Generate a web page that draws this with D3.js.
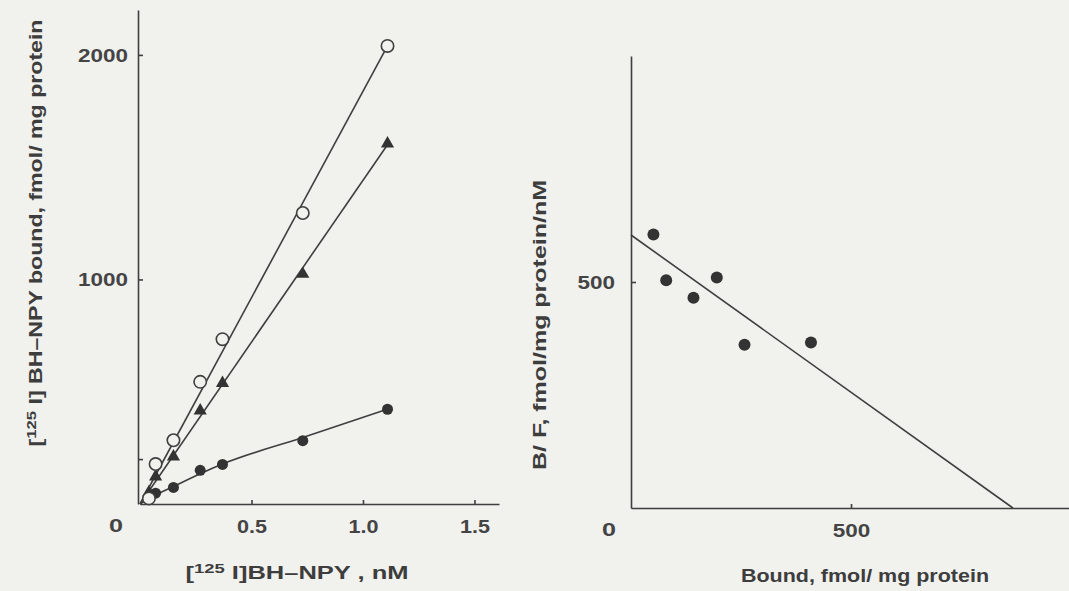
<!DOCTYPE html>
<html>
<head>
<meta charset="utf-8">
<script src="https://d3js.org/d3.v7.min.js"></script>
<style>
  body { margin: 0; background: #f1f1ee; }
  svg { display: block; }
  text { font-family: "Liberation Sans", Arial, sans-serif; fill: #3a3a3a; }
  .tick text, .zero { font-size: 19px; font-weight: bold; fill: #444; }
  .title { font-size: 18px; font-weight: bold; fill: #3d3d3d; }
  .domain, .tick line { stroke: #3f3f3f; stroke-width: 1.6px; }
</style>
</head>
<body>
<div id="chart"></div>
<script>
// saturation binding, [125I]BH-NPY concentration (nM)
var conc = [0.04, 0.07, 0.15, 0.27, 0.37, 0.73, 1.11];
var totalBound = [25, 178, 284, 544, 734, 1296, 2040];
var specificBound = [52, 122, 211, 416, 538, 1024, 1605];
var nonspecificBound = [22, 48, 74, 150, 176, 282, 422];

// drawn fit curves [x, y]
var totalFit = [[0, 0], [1.11, 2040]];
var specificFit = [[0, 0], [1.11, 1600]];
var nonspecificFit = [[0, 0], [0.07, 40], [0.15, 78], [0.27, 135], [0.37, 178], [0.73, 296], [1.11, 422]];

var satXTicks = [0.5, 1.0, 1.5];
var satYTicks = [200, 1000, 2000];
var satYLabels = [1000, 2000];

// Scatchard plot
var scBound = [51, 80, 142, 195, 258, 409];
var scRatio = [605, 504, 465, 510, 361, 366];
var scFit = [[0, 604], [868, 0]];
var scXTicks = [500];
var scYTicks = [500];

var W = 1069, H = 591;
var ink = "#3f3f3f";

var svg = d3.select("#chart").append("svg")
    .attr("width", W).attr("height", H);

// the figure's digits are set wide
function digitLen(s) {
  return s.replace(/[^0-9]/g, "").length * 12.5 + s.replace(/[0-9]/g, "").length * 5;
}

function stretchTicks(g) {
  g.selectAll(".tick text")
    .attr("textLength", function() { return this.textContent ? digitLen(this.textContent) : null; })
    .attr("lengthAdjust", "spacingAndGlyphs");
}

// ---- left panel ----
var x1 = d3.scaleLinear().domain([0, 1.61]).range([140, 499]);
var y1 = d3.scaleLinear().domain([0, 2200]).range([504, 10]);

var gx1 = svg.append("g")
    .attr("transform", "translate(0," + y1(0) + ")")
    .call(d3.axisBottom(x1).tickValues(satXTicks).tickSize(-4).tickSizeOuter(0)
      .tickPadding(16).tickFormat(d3.format(".1f")));
gx1.call(stretchTicks);

var gy1 = svg.append("g")
    .attr("transform", "translate(" + (x1(0) - 2) + ",0)")
    .call(d3.axisLeft(y1).tickValues(satYTicks).tickSize(-5).tickSizeOuter(0)
      .tickPadding(10).tickFormat(function(d) { return satYLabels.indexOf(d) >= 0 ? d : ""; }));
gy1.call(stretchTicks);

svg.append("text").attr("class", "zero")
    .attr("x", x1(0) - 24).attr("y", y1(0) + 21)
    .attr("dy", "0.35em").attr("text-anchor", "middle")
    .attr("textLength", 14).attr("lengthAdjust", "spacingAndGlyphs")
    .text("0");

var line1 = d3.line()
    .x(function(d) { return x1(d[0]); })
    .y(function(d) { return y1(d[1]); });

[totalFit, specificFit].forEach(function(f) {
  svg.append("path").datum(f)
    .attr("d", line1)
    .attr("fill", "none").attr("stroke", ink).attr("stroke-width", 1.6);
});
svg.append("path").datum(nonspecificFit)
    .attr("d", line1.curve(d3.curveMonotoneX))
    .attr("fill", "none").attr("stroke", ink).attr("stroke-width", 1.6);

// nonspecific, filled circles
svg.selectAll(".ns").data(conc).enter().append("circle")
    .attr("cx", function(d) { return x1(d); })
    .attr("cy", function(d, i) { return y1(nonspecificBound[i]); })
    .attr("r", 5.5).attr("fill", "#333");

// specific, filled triangles
var tri = d3.symbol().type(d3.symbolTriangle).size(75);
svg.selectAll(".sp").data(conc).enter().append("path")
    .attr("d", tri)
    .attr("transform", function(d, i) {
      return "translate(" + x1(d) + "," + y1(specificBound[i]) + ")";
    })
    .attr("fill", "#333");

// total, open circles
svg.selectAll(".tot").data(conc).enter().append("circle")
    .attr("cx", function(d) { return x1(d); })
    .attr("cy", function(d, i) { return y1(totalBound[i]); })
    .attr("r", 6.2).attr("fill", "#f1f1ee")
    .attr("stroke", ink).attr("stroke-width", 1.6);

var t1 = svg.append("text").attr("class", "title")
    .attr("x", 297).attr("y", 579)
    .attr("text-anchor", "middle")
    .attr("textLength", 223).attr("lengthAdjust", "spacingAndGlyphs");
t1.append("tspan").text("[");
t1.append("tspan").attr("dy", -6).style("font-size", "13px").text("125");
t1.append("tspan").attr("dy", 6).text(" I]BH\u2013NPY , nM");

var t2 = svg.append("text").attr("class", "title")
    .attr("transform", "translate(42,233) rotate(-90)")
    .attr("text-anchor", "middle")
    .attr("textLength", 427).attr("lengthAdjust", "spacingAndGlyphs");
t2.append("tspan").text("[");
t2.append("tspan").attr("dy", -6).style("font-size", "13px").text("125");
t2.append("tspan").attr("dy", 6).text(" I] BH\u2013NPY bound, fmol/ mg protein");

// ---- right panel ----
var x2 = d3.scaleLinear().domain([0, 1000]).range([631, 1071]);
var y2 = d3.scaleLinear().domain([0, 1000]).range([508, 56]);

var gx2 = svg.append("g")
    .attr("transform", "translate(0," + y2(0) + ")")
    .call(d3.axisBottom(x2).tickValues(scXTicks).tickSize(-4).tickSizeOuter(0).tickPadding(16));
gx2.call(stretchTicks);

var gy2 = svg.append("g")
    .attr("transform", "translate(" + x2(0) + ",0)")
    .call(d3.axisLeft(y2).tickValues(scYTicks).tickSize(-5).tickSizeOuter(0).tickPadding(16));
gy2.call(stretchTicks);

svg.append("text").attr("class", "zero")
    .attr("x", x2(0) - 22).attr("y", y2(0) + 21)
    .attr("dy", "0.35em").attr("text-anchor", "middle")
    .attr("textLength", 14).attr("lengthAdjust", "spacingAndGlyphs")
    .text("0");

var line2 = d3.line()
    .x(function(d) { return x2(d[0]); })
    .y(function(d) { return y2(d[1]); });

svg.append("path").datum(scFit)
    .attr("d", line2)
    .attr("fill", "none").attr("stroke", ink).attr("stroke-width", 1.6);

svg.selectAll(".sc").data(scBound).enter().append("circle")
    .attr("cx", function(d) { return x2(d); })
    .attr("cy", function(d, i) { return y2(scRatio[i]); })
    .attr("r", 6).attr("fill", "#333");

svg.append("text").attr("class", "title")
    .attr("x", 865).attr("y", 582)
    .attr("text-anchor", "middle")
    .attr("textLength", 248).attr("lengthAdjust", "spacingAndGlyphs")
    .text("Bound, fmol/ mg protein");

svg.append("text").attr("class", "title")
    .attr("transform", "translate(546,325) rotate(-90)")
    .attr("text-anchor", "middle")
    .attr("textLength", 290).attr("lengthAdjust", "spacingAndGlyphs")
    .text("B/ F, fmol/mg protein/nM");
</script>
</body>
</html>
